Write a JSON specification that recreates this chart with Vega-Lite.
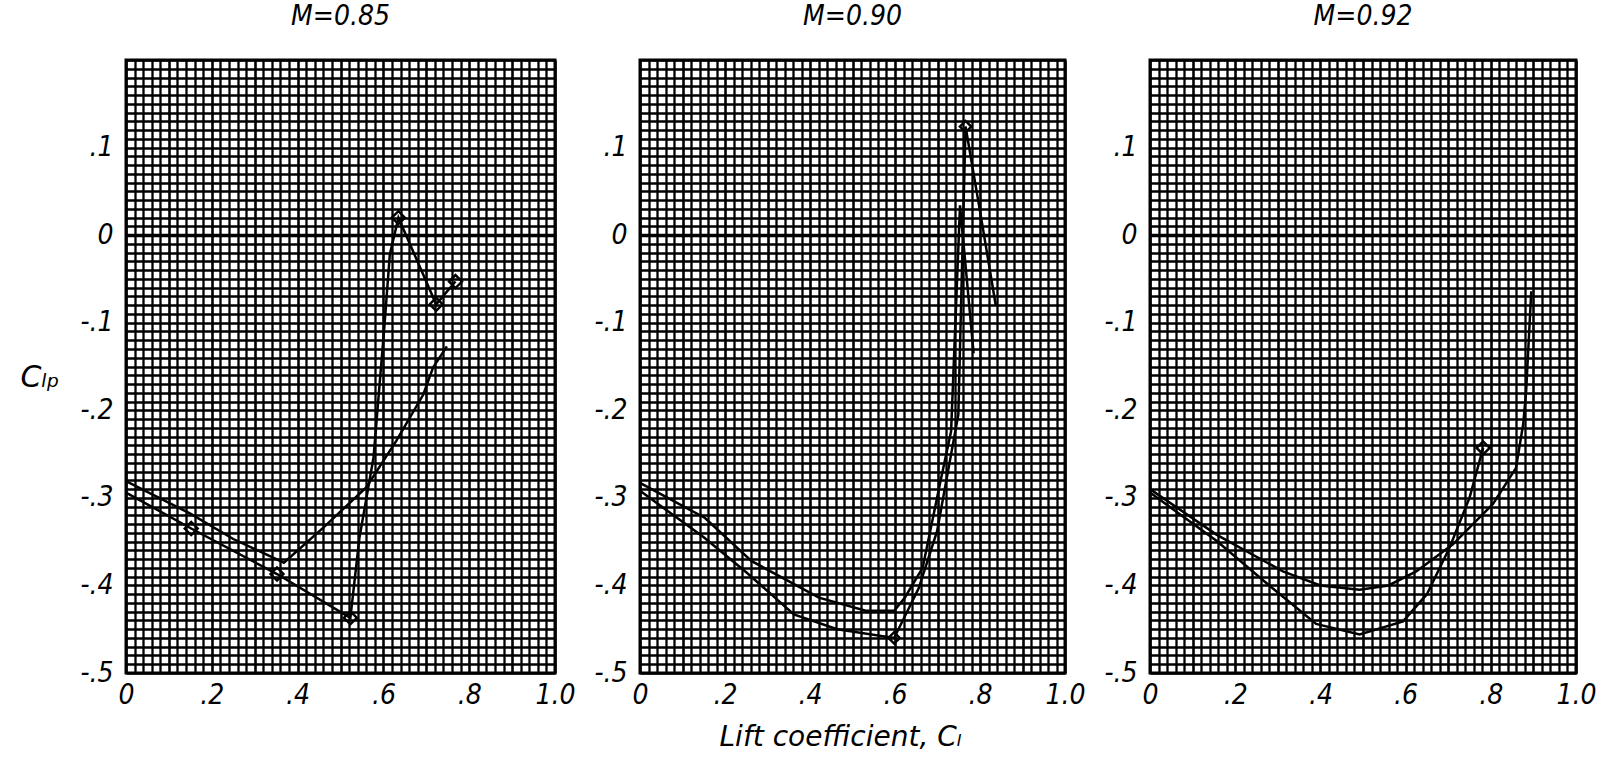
{
  "$schema": "https://vega.github.io/schema/vega-lite/v6.json",
  "background": "white",
  "padding": {"left": 18, "top": 1, "right": 4, "bottom": 0},
  "spacing": 85,
  "bounds": "flush",
  "datasets": {
    "curves": [
      {"mach": "0.85", "series": "A", "cl": 0, "clp": -0.294},
      {"mach": "0.85", "series": "A", "cl": 0.152, "clp": -0.335},
      {"mach": "0.85", "series": "A", "cl": 0.352, "clp": -0.387},
      {"mach": "0.85", "series": "A", "cl": 0.523, "clp": -0.437},
      {"mach": "0.85", "series": "A", "cl": 0.544, "clp": -0.346},
      {"mach": "0.85", "series": "A", "cl": 0.577, "clp": -0.254},
      {"mach": "0.85", "series": "A", "cl": 0.602, "clp": -0.106},
      {"mach": "0.85", "series": "A", "cl": 0.615, "clp": -0.022},
      {"mach": "0.85", "series": "A", "cl": 0.635, "clp": 0.02},
      {"mach": "0.85", "series": "A", "cl": 0.723, "clp": -0.079},
      {"mach": "0.85", "series": "A", "cl": 0.768, "clp": -0.053},
      {"mach": "0.85", "series": "B", "cl": 0, "clp": -0.281},
      {"mach": "0.85", "series": "B", "cl": 0.15, "clp": -0.318},
      {"mach": "0.85", "series": "B", "cl": 0.25, "clp": -0.347},
      {"mach": "0.85", "series": "B", "cl": 0.368, "clp": -0.374},
      {"mach": "0.85", "series": "B", "cl": 0.46, "clp": -0.334},
      {"mach": "0.85", "series": "B", "cl": 0.56, "clp": -0.288},
      {"mach": "0.85", "series": "B", "cl": 0.63, "clp": -0.235},
      {"mach": "0.85", "series": "B", "cl": 0.693, "clp": -0.182},
      {"mach": "0.85", "series": "B", "cl": 0.716, "clp": -0.151},
      {"mach": "0.85", "series": "B", "cl": 0.748, "clp": -0.127},
      {"mach": "0.90", "series": "A", "cl": 0, "clp": -0.292},
      {"mach": "0.90", "series": "A", "cl": 0.15, "clp": -0.345},
      {"mach": "0.90", "series": "A", "cl": 0.25, "clp": -0.385},
      {"mach": "0.90", "series": "A", "cl": 0.362, "clp": -0.433},
      {"mach": "0.90", "series": "A", "cl": 0.464, "clp": -0.45},
      {"mach": "0.90", "series": "A", "cl": 0.598, "clp": -0.46},
      {"mach": "0.90", "series": "A", "cl": 0.656, "clp": -0.403},
      {"mach": "0.90", "series": "A", "cl": 0.699, "clp": -0.338},
      {"mach": "0.90", "series": "A", "cl": 0.749, "clp": -0.205},
      {"mach": "0.90", "series": "A", "cl": 0.766, "clp": 0.124},
      {"mach": "0.90", "series": "A", "cl": 0.804, "clp": 0.016},
      {"mach": "0.90", "series": "A", "cl": 0.837, "clp": -0.08},
      {"mach": "0.90", "series": "B", "cl": 0, "clp": -0.283},
      {"mach": "0.90", "series": "B", "cl": 0.153, "clp": -0.323},
      {"mach": "0.90", "series": "B", "cl": 0.262, "clp": -0.372},
      {"mach": "0.90", "series": "B", "cl": 0.421, "clp": -0.414},
      {"mach": "0.90", "series": "B", "cl": 0.531, "clp": -0.429},
      {"mach": "0.90", "series": "B", "cl": 0.598, "clp": -0.429},
      {"mach": "0.90", "series": "B", "cl": 0.623, "clp": -0.414},
      {"mach": "0.90", "series": "B", "cl": 0.665, "clp": -0.38},
      {"mach": "0.90", "series": "B", "cl": 0.707, "clp": -0.281},
      {"mach": "0.90", "series": "B", "cl": 0.732, "clp": -0.224},
      {"mach": "0.90", "series": "B", "cl": 0.753, "clp": 0.034},
      {"mach": "0.90", "series": "B", "cl": 0.785, "clp": -0.135},
      {"mach": "0.92", "series": "A", "cl": 0, "clp": -0.294},
      {"mach": "0.92", "series": "A", "cl": 0.156, "clp": -0.349},
      {"mach": "0.92", "series": "A", "cl": 0.28, "clp": -0.4},
      {"mach": "0.92", "series": "A", "cl": 0.39, "clp": -0.444},
      {"mach": "0.92", "series": "A", "cl": 0.492, "clp": -0.456},
      {"mach": "0.92", "series": "A", "cl": 0.594, "clp": -0.441},
      {"mach": "0.92", "series": "A", "cl": 0.65, "clp": -0.41},
      {"mach": "0.92", "series": "A", "cl": 0.703, "clp": -0.357},
      {"mach": "0.92", "series": "A", "cl": 0.75, "clp": -0.3},
      {"mach": "0.92", "series": "A", "cl": 0.782, "clp": -0.243},
      {"mach": "0.92", "series": "B", "cl": 0, "clp": -0.29},
      {"mach": "0.92", "series": "B", "cl": 0.156, "clp": -0.342},
      {"mach": "0.92", "series": "B", "cl": 0.312, "clp": -0.384},
      {"mach": "0.92", "series": "B", "cl": 0.4, "clp": -0.4},
      {"mach": "0.92", "series": "B", "cl": 0.492, "clp": -0.405},
      {"mach": "0.92", "series": "B", "cl": 0.56, "clp": -0.4},
      {"mach": "0.92", "series": "B", "cl": 0.625, "clp": -0.384},
      {"mach": "0.92", "series": "B", "cl": 0.711, "clp": -0.353},
      {"mach": "0.92", "series": "B", "cl": 0.805, "clp": -0.307},
      {"mach": "0.92", "series": "B", "cl": 0.859, "clp": -0.266},
      {"mach": "0.92", "series": "B", "cl": 0.876, "clp": -0.216},
      {"mach": "0.92", "series": "B", "cl": 0.883, "clp": -0.178},
      {"mach": "0.92", "series": "B", "cl": 0.895, "clp": -0.064}
    ],
    "marks": [
      {"mach": "0.85", "cl": 0.152, "clp": -0.335},
      {"mach": "0.85", "cl": 0.352, "clp": -0.387},
      {"mach": "0.85", "cl": 0.523, "clp": -0.437},
      {"mach": "0.85", "cl": 0.635, "clp": 0.02},
      {"mach": "0.85", "cl": 0.723, "clp": -0.079},
      {"mach": "0.85", "cl": 0.768, "clp": -0.053},
      {"mach": "0.90", "cl": 0.598, "clp": -0.46},
      {"mach": "0.90", "cl": 0.766, "clp": 0.124},
      {"mach": "0.92", "cl": 0.782, "clp": -0.243}
    ]
  },
  "config": {
    "view": {"stroke": "black", "strokeWidth": 3},
    "axis": {
      "domain": false,
      "ticks": false,
      "grid": true,
      "gridColor": "black",
      "gridOpacity": 1,
      "labelFont": "DejaVu Sans Condensed",
      "labelFontStyle": "italic",
      "labelFontSize": 28,
      "labelColor": "black",
      "labelOverlap": false,
      "labelFlush": false,
      "labelBound": false,
      "titleColor": "black"
    },
    "axisX": {"labelPadding": 8},
    "axisY": {"labelPadding": 13},
    "title": {
      "font": "DejaVu Sans Condensed",
      "fontStyle": "italic",
      "fontWeight": "normal",
      "fontSize": 28,
      "color": "black",
      "offset": 15,
      "anchor": "middle"
    }
  },
  "hconcat": [
    {
      "width": 429,
      "height": 613,
      "title": "M=0.85",
      "encoding": {
        "x": {"field": "cl", "type": "quantitative", "scale": {"domain": [0, 1], "nice": false},
          "axis": {"title": null,
            "values": [0,0.02,0.04,0.06,0.08,0.1,0.12,0.14,0.16,0.18,0.2,0.22,0.24,0.26,0.28,0.3,0.32,0.34,0.36,0.38,0.4,0.42,0.44,0.46,0.48,0.5,0.52,0.54,0.56,0.58,0.6,0.62,0.64,0.66,0.68,0.7,0.72,0.74,0.76,0.78,0.8,0.82,0.84,0.86,0.88,0.9,0.92,0.94,0.96,0.98,1],
            "gridWidth": {"condition": {"test": "abs(round(datum.value*100)) % 10 === 0", "value": 2.6}, "value": 2.3},
            "labelExpr": "abs(round(datum.value*100)) % 20 === 0 ? (round(datum.value*10) === 0 ? '0' : (round(datum.value*10) === 10 ? '1.0' : '.' + round(datum.value*10))) : ''"}},
        "y": {"field": "clp", "type": "quantitative", "scale": {"domain": [-0.5, 0.2], "nice": false, "zero": false},
          "axis": {"title": "Cₗₚ", "titleAngle": 0, "titleAlign": "left", "titleBaseline": "alphabetic", "titleX": -106, "titleY": 326,
            "titleFont": "DejaVu Sans", "titleFontStyle": "italic", "titleFontWeight": "normal", "titleFontSize": 30,
            "values": [-0.5,-0.49,-0.48,-0.47,-0.46,-0.45,-0.44,-0.43,-0.42,-0.41,-0.4,-0.39,-0.38,-0.37,-0.36,-0.35,-0.34,-0.33,-0.32,-0.31,-0.3,-0.29,-0.28,-0.27,-0.26,-0.25,-0.24,-0.23,-0.22,-0.21,-0.2,-0.19,-0.18,-0.17,-0.16,-0.15,-0.14,-0.13,-0.12,-0.11,-0.1,-0.09,-0.08,-0.07,-0.06,-0.05,-0.04,-0.03,-0.02,-0.01,0,0.01,0.02,0.03,0.04,0.05,0.06,0.07,0.08,0.09,0.1,0.11,0.12,0.13,0.14,0.15,0.16,0.17,0.18,0.19,0.2],
            "gridWidth": {"condition": [{"test": "round(datum.value*100) === 0", "value": 3.6}, {"test": "abs(round(datum.value*100)) % 10 === 0", "value": 2.6}], "value": 2.3},
            "labelExpr": "abs(round(datum.value*100)) % 10 === 0 && round(datum.value*100) <= 10 ? (round(datum.value*10) === 0 ? '0' : (round(datum.value*10) < 0 ? '-.' + abs(round(datum.value*10)) : '.' + round(datum.value*10))) : ''"}}
      },
      "layer": [
        {"data": {"name": "curves"}, "transform": [{"filter": "datum.mach === '0.85'"}],
          "mark": {"type": "line", "color": "black", "strokeWidth": 2.5},
          "encoding": {"detail": {"field": "series", "type": "nominal"}}},
        {"data": {"name": "marks"}, "transform": [{"filter": "datum.mach === '0.85'"}],
          "mark": {"type": "point", "shape": "diamond", "filled": false, "color": "black", "size": 170, "strokeWidth": 2.4, "opacity": 1}}
      ]
    },
    {
      "width": 425,
      "height": 613,
      "title": "M=0.90",
      "encoding": {
        "x": {"field": "cl", "type": "quantitative", "scale": {"domain": [0, 1], "nice": false},
          "axis": {"title": "Lift coefficient, Cₗ", "titleFont": "DejaVu Sans", "titleFontStyle": "italic", "titleFontWeight": "normal", "titleFontSize": 28,
            "titleX": 200, "titleY": 72, "titleAlign": "center", "titleBaseline": "alphabetic",
            "values": [0,0.02,0.04,0.06,0.08,0.1,0.12,0.14,0.16,0.18,0.2,0.22,0.24,0.26,0.28,0.3,0.32,0.34,0.36,0.38,0.4,0.42,0.44,0.46,0.48,0.5,0.52,0.54,0.56,0.58,0.6,0.62,0.64,0.66,0.68,0.7,0.72,0.74,0.76,0.78,0.8,0.82,0.84,0.86,0.88,0.9,0.92,0.94,0.96,0.98,1],
            "gridWidth": {"condition": {"test": "abs(round(datum.value*100)) % 10 === 0", "value": 2.6}, "value": 2.3},
            "labelExpr": "abs(round(datum.value*100)) % 20 === 0 ? (round(datum.value*10) === 0 ? '0' : (round(datum.value*10) === 10 ? '1.0' : '.' + round(datum.value*10))) : ''"}},
        "y": {"field": "clp", "type": "quantitative", "scale": {"domain": [-0.5, 0.2], "nice": false, "zero": false},
          "axis": {"title": null,
            "values": [-0.5,-0.49,-0.48,-0.47,-0.46,-0.45,-0.44,-0.43,-0.42,-0.41,-0.4,-0.39,-0.38,-0.37,-0.36,-0.35,-0.34,-0.33,-0.32,-0.31,-0.3,-0.29,-0.28,-0.27,-0.26,-0.25,-0.24,-0.23,-0.22,-0.21,-0.2,-0.19,-0.18,-0.17,-0.16,-0.15,-0.14,-0.13,-0.12,-0.11,-0.1,-0.09,-0.08,-0.07,-0.06,-0.05,-0.04,-0.03,-0.02,-0.01,0,0.01,0.02,0.03,0.04,0.05,0.06,0.07,0.08,0.09,0.1,0.11,0.12,0.13,0.14,0.15,0.16,0.17,0.18,0.19,0.2],
            "gridWidth": {"condition": [{"test": "round(datum.value*100) === 0", "value": 3.6}, {"test": "abs(round(datum.value*100)) % 10 === 0", "value": 2.6}], "value": 2.3},
            "labelExpr": "abs(round(datum.value*100)) % 10 === 0 && round(datum.value*100) <= 10 ? (round(datum.value*10) === 0 ? '0' : (round(datum.value*10) < 0 ? '-.' + abs(round(datum.value*10)) : '.' + round(datum.value*10))) : ''"}}
      },
      "layer": [
        {"data": {"name": "curves"}, "transform": [{"filter": "datum.mach === '0.90'"}],
          "mark": {"type": "line", "color": "black", "strokeWidth": 2.5},
          "encoding": {"detail": {"field": "series", "type": "nominal"}}},
        {"data": {"name": "marks"}, "transform": [{"filter": "datum.mach === '0.90'"}],
          "mark": {"type": "point", "shape": "diamond", "filled": false, "color": "black", "size": 130, "strokeWidth": 2.4, "opacity": 1}}
      ]
    },
    {
      "width": 426,
      "height": 613,
      "title": "M=0.92",
      "encoding": {
        "x": {"field": "cl", "type": "quantitative", "scale": {"domain": [0, 1], "nice": false},
          "axis": {"title": null,
            "values": [0,0.02,0.04,0.06,0.08,0.1,0.12,0.14,0.16,0.18,0.2,0.22,0.24,0.26,0.28,0.3,0.32,0.34,0.36,0.38,0.4,0.42,0.44,0.46,0.48,0.5,0.52,0.54,0.56,0.58,0.6,0.62,0.64,0.66,0.68,0.7,0.72,0.74,0.76,0.78,0.8,0.82,0.84,0.86,0.88,0.9,0.92,0.94,0.96,0.98,1],
            "gridWidth": {"condition": {"test": "abs(round(datum.value*100)) % 10 === 0", "value": 2.6}, "value": 2.3},
            "labelExpr": "abs(round(datum.value*100)) % 20 === 0 ? (round(datum.value*10) === 0 ? '0' : (round(datum.value*10) === 10 ? '1.0' : '.' + round(datum.value*10))) : ''"}},
        "y": {"field": "clp", "type": "quantitative", "scale": {"domain": [-0.5, 0.2], "nice": false, "zero": false},
          "axis": {"title": null,
            "values": [-0.5,-0.49,-0.48,-0.47,-0.46,-0.45,-0.44,-0.43,-0.42,-0.41,-0.4,-0.39,-0.38,-0.37,-0.36,-0.35,-0.34,-0.33,-0.32,-0.31,-0.3,-0.29,-0.28,-0.27,-0.26,-0.25,-0.24,-0.23,-0.22,-0.21,-0.2,-0.19,-0.18,-0.17,-0.16,-0.15,-0.14,-0.13,-0.12,-0.11,-0.1,-0.09,-0.08,-0.07,-0.06,-0.05,-0.04,-0.03,-0.02,-0.01,0,0.01,0.02,0.03,0.04,0.05,0.06,0.07,0.08,0.09,0.1,0.11,0.12,0.13,0.14,0.15,0.16,0.17,0.18,0.19,0.2],
            "gridWidth": {"condition": [{"test": "round(datum.value*100) === 0", "value": 3.6}, {"test": "abs(round(datum.value*100)) % 10 === 0", "value": 2.6}], "value": 2.3},
            "labelExpr": "abs(round(datum.value*100)) % 10 === 0 && round(datum.value*100) <= 10 ? (round(datum.value*10) === 0 ? '0' : (round(datum.value*10) < 0 ? '-.' + abs(round(datum.value*10)) : '.' + round(datum.value*10))) : ''"}}
      },
      "layer": [
        {"data": {"name": "curves"}, "transform": [{"filter": "datum.mach === '0.92'"}],
          "mark": {"type": "line", "color": "black", "strokeWidth": 2.5},
          "encoding": {"detail": {"field": "series", "type": "nominal"}}},
        {"data": {"name": "marks"}, "transform": [{"filter": "datum.mach === '0.92'"}],
          "mark": {"type": "point", "shape": "diamond", "filled": false, "color": "black", "size": 170, "strokeWidth": 2.4, "opacity": 1}}
      ]
    }
  ]
}
